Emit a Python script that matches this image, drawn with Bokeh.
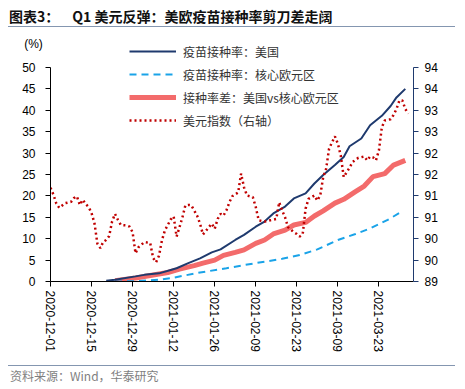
import pandas as pd
from bokeh.plotting import figure
from bokeh.models import (Range1d, LinearAxis, FixedTicker, Legend, LegendItem,
                          Label, Div, ColumnDataSource)
from bokeh.layouts import column
from bokeh.embed import file_html
from bokeh.resources import INLINE

# ---------------- data ----------------
title_prefix = "图表3："
title_text = "Q1 美元反弹：美欧疫苗接种率剪刀差走阔"
source_text = "资料来源：Wind，华泰研究"
unit_text = "(%)"

x_tick_labels = ["2020-12-01", "2020-12-15", "2020-12-29", "2021-01-12", "2021-01-26",
                 "2021-02-09", "2021-02-23", "2021-03-09", "2021-03-23"]
left_ticks = [0, 5, 10, 15, 20, 25, 30, 35, 40, 45, 50]
right_ticks = [89, 89.5, 90, 90.5, 91, 91.5, 92, 92.5, 93, 93.5, 94]
right_tick_labels = ["89", "90", "90", "91", "91", "92", "92", "93", "93", "94", "94"]

us_dates = ["2020-12-20", "2020-12-23", "2020-12-30", "2021-01-02", "2021-01-07", "2021-01-11",
            "2021-01-13", "2021-01-17", "2021-01-21", "2021-01-25", "2021-01-28", "2021-02-02",
            "2021-02-05", "2021-02-09", "2021-02-12", "2021-02-15", "2021-02-19", "2021-02-22",
            "2021-02-26", "2021-03-01", "2021-03-04", "2021-03-08", "2021-03-11", "2021-03-13",
            "2021-03-17", "2021-03-20", "2021-03-24", "2021-03-27", "2021-03-29", "2021-04-01"]
us_rate = [0.15, 0.4, 1.2, 1.55, 1.9, 2.7, 3.1, 4.3, 5.4, 6.8, 7.5, 9.7, 10.9, 12.8, 14.0,
           15.9, 17.5, 19.4, 20.6, 22.9, 24.9, 27.2, 29.1, 31.6, 33.4, 36.5, 38.7, 41.0, 43.0, 45.0]

ez_dates = ["2020-12-23", "2020-12-30", "2021-01-07", "2021-01-12", "2021-01-21", "2021-01-30",
            "2021-02-09", "2021-02-18", "2021-02-24", "2021-03-02", "2021-03-09", "2021-03-15",
            "2021-03-20", "2021-03-26", "2021-03-31"]
ez_rate = [0.0, 0.05, 0.4, 0.9, 2.1, 3.1, 4.3, 5.3, 6.2, 7.5, 9.7, 11.1, 12.4, 14.4, 16.4]

gap_dates = ["2020-12-23", "2020-12-30", "2021-01-04", "2021-01-10", "2021-01-14", "2021-01-19",
             "2021-01-22", "2021-01-26", "2021-01-29", "2021-02-02", "2021-02-05", "2021-02-09",
             "2021-02-12", "2021-02-15", "2021-02-19", "2021-02-22", "2021-02-26", "2021-03-01",
             "2021-03-04", "2021-03-08", "2021-03-11", "2021-03-15", "2021-03-18", "2021-03-21",
             "2021-03-25", "2021-03-28", "2021-04-01"]
gap_rate = [0.2, 0.8, 1.4, 2.1, 2.9, 3.7, 4.3, 5.0, 6.1, 6.8, 7.4, 8.9, 9.7, 11.1, 12.0,
            13.2, 13.8, 15.3, 16.5, 18.3, 19.2, 21.0, 22.3, 24.5, 25.2, 27.2, 28.3]

dxy_dates = ["2020-12-01", "2020-12-02", "2020-12-03", "2020-12-04", "2020-12-06", "2020-12-08",
             "2020-12-09", "2020-12-10", "2020-12-11", "2020-12-12", "2020-12-13", "2020-12-14",
             "2020-12-15", "2020-12-16", "2020-12-17", "2020-12-18", "2020-12-19", "2020-12-20",
             "2020-12-21", "2020-12-22", "2020-12-23", "2020-12-24", "2020-12-25", "2020-12-27",
             "2020-12-28", "2020-12-29", "2020-12-30", "2020-12-31", "2021-01-02", "2021-01-04",
             "2021-01-05", "2021-01-06", "2021-01-07", "2021-01-08", "2021-01-09", "2021-01-11",
             "2021-01-12", "2021-01-13", "2021-01-14", "2021-01-15", "2021-01-16", "2021-01-17",
             "2021-01-18", "2021-01-19", "2021-01-20", "2021-01-21", "2021-01-22", "2021-01-23",
             "2021-01-24", "2021-01-25", "2021-01-26", "2021-01-27", "2021-01-28", "2021-01-29",
             "2021-01-30", "2021-01-31", "2021-02-01", "2021-02-03", "2021-02-04", "2021-02-05",
             "2021-02-06", "2021-02-08", "2021-02-09", "2021-02-10", "2021-02-12", "2021-02-14",
             "2021-02-16", "2021-02-17", "2021-02-18", "2021-02-19", "2021-02-20", "2021-02-22",
             "2021-02-23", "2021-02-24", "2021-02-25", "2021-02-26", "2021-02-27", "2021-03-01",
             "2021-03-02", "2021-03-03", "2021-03-04", "2021-03-05", "2021-03-06", "2021-03-07",
             "2021-03-08", "2021-03-09", "2021-03-10", "2021-03-11", "2021-03-12", "2021-03-13",
             "2021-03-14", "2021-03-16", "2021-03-18", "2021-03-19", "2021-03-20", "2021-03-21",
             "2021-03-22", "2021-03-23", "2021-03-24", "2021-03-25", "2021-03-27", "2021-03-28",
             "2021-03-29", "2021-03-30", "2021-03-31", "2021-04-01", "2021-04-02"]
dxy_index = [91.19, 91.03, 90.82, 90.72, 90.83, 90.86,
             90.95, 90.99, 90.79, 90.91, 90.81, 90.74,
             90.60, 90.36, 89.88, 89.78, 89.93, 89.97,
             90.06, 90.40, 90.58, 90.44, 90.32, 90.31,
             90.28, 90.15, 89.66, 89.80, 89.92, 89.90,
             89.55, 89.45, 89.60, 89.96, 90.19, 90.45,
             90.52, 90.05, 90.27, 90.50, 90.78, 90.79,
             90.78, 90.66, 90.54, 90.35, 90.10, 90.18,
             90.27, 90.35, 90.23, 90.46, 90.58, 90.54,
             90.66, 90.85, 90.99, 91.08, 91.52, 91.20,
             91.01, 90.97, 90.74, 90.43, 90.40, 90.43,
             90.46, 90.85, 90.66, 90.50, 90.27, 90.15,
             90.11, 90.05, 90.10, 90.70, 90.93, 91.01,
             90.89, 91.01, 91.44, 91.63, 92.10, 92.25,
             92.39, 92.22, 91.94, 91.44, 91.55, 91.66,
             91.79, 91.89, 91.92, 91.83, 91.92, 91.90,
             91.83, 92.06, 92.60, 92.76, 92.79, 92.89,
             93.03, 93.23, 93.23, 93.03, 92.92]

legend_labels = ["疫苗接种率：美国", "疫苗接种率：核心欧元区", "接种率差：美国vs核心欧元区", "美元指数（右轴）"]

# ---------------- figure ----------------
NUM_FONT = "Liberation Sans"
CJK_FONT = "Noto Sans CJK SC"
RULE = "#8496B0"

x_start = pd.Timestamp("2020-12-01")
x_end = x_start + pd.Timedelta(days=123.8)
y_top = 56.3

p = figure(width=465, height=335, output_backend="svg", toolbar_location=None,
           x_axis_type="datetime",
           x_range=Range1d(x_start, x_end), y_range=Range1d(0, y_top),
           min_border_left=49, min_border_right=52, min_border_top=10, min_border_bottom=84)
p.outline_line_color = None
p.xgrid.visible = False
p.ygrid.visible = False
p.background_fill_color = None
p.border_fill_color = None

p.extra_y_ranges = {"dxy": Range1d(89, 89 + y_top / 10)}

src_us = ColumnDataSource(dict(x=pd.to_datetime(us_dates), y=us_rate))
src_ez = ColumnDataSource(dict(x=pd.to_datetime(ez_dates), y=ez_rate))
src_gap = ColumnDataSource(dict(x=pd.to_datetime(gap_dates), y=gap_rate))
src_dxy = ColumnDataSource(dict(x=pd.to_datetime(dxy_dates), y=dxy_index))

r_gap = p.line("x", "y", source=src_gap, line_color="#F36B6B", line_width=5)
r_ez = p.line("x", "y", source=src_ez, line_color="#1AA3E8", line_width=2, line_dash="7 5")
r_us = p.line("x", "y", source=src_us, line_color="#1F3A6E", line_width=2)
r_dxy = p.line("x", "y", source=src_dxy, y_range_name="dxy", line_color="#C00000",
               line_width=2.5, line_dash="2 3")

# left axis
ya = p.yaxis[0]
ya.ticker = FixedTicker(ticks=left_ticks)
ya.bounds = (0, 50)
ya.axis_line_color = "black"
ya.major_tick_line_color = "black"
ya.major_tick_out = 5
ya.major_tick_in = 0
ya.minor_tick_line_color = None
ya.major_label_standoff = 10
ya.major_label_text_font = NUM_FONT
ya.major_label_text_font_size = "12px"
ya.major_label_text_color = "black"

# right axis
ra = LinearAxis(y_range_name="dxy", ticker=FixedTicker(ticks=right_ticks), bounds=(89, 94))
ra.major_label_overrides = {t: lab for t, lab in zip(right_ticks, right_tick_labels)}
ra.axis_line_color = "#1F3A6E"
ra.major_tick_line_color = "#1F3A6E"
ra.major_tick_out = 5
ra.major_tick_in = 0
ra.minor_tick_line_color = None
ra.major_label_standoff = 6
ra.major_label_text_font = NUM_FONT
ra.major_label_text_font_size = "12px"
ra.major_label_text_color = "black"
p.add_layout(ra, "right")

# x axis
x_ticks = [pd.Timestamp(s).value / 1e6 for s in x_tick_labels]
xa = p.xaxis[0]
xa.ticker = FixedTicker(ticks=x_ticks)
xa.major_label_overrides = {t: s for t, s in zip(x_ticks, x_tick_labels)}
xa.major_label_orientation = "vertical"
xa.axis_line_color = "black"
xa.major_tick_line_color = "black"
xa.major_tick_out = 5
xa.major_tick_in = 0
xa.minor_tick_line_color = None
xa.major_label_standoff = 4
xa.major_label_text_font = NUM_FONT
xa.major_label_text_font_size = "12px"
xa.major_label_text_color = "black"

# unit label, placed in the left side panel so it is not clipped to the frame
p.add_layout(Label(x=33, y=13, x_units="canvas", y_units="canvas", text=unit_text,
                   text_align="center", text_baseline="middle",
                   text_font=NUM_FONT, text_font_size="12px", text_color="black"), "left")

legend = Legend(items=[LegendItem(label=legend_labels[0], renderers=[r_us]),
                       LegendItem(label=legend_labels[1], renderers=[r_ez]),
                       LegendItem(label=legend_labels[2], renderers=[r_gap]),
                       LegendItem(label=legend_labels[3], renderers=[r_dxy])],
                location=(79, 151), orientation="vertical",
                glyph_width=47, glyph_height=20, label_height=20, spacing=3,
                label_standoff=7, padding=0, margin=0,
                border_line_alpha=0, background_fill_alpha=0,
                label_text_font=CJK_FONT, label_text_font_size="12px",
                label_text_color="#333333")
p.add_layout(legend, "center")

# title block: text plus its underline drawn in one HTML block
top = Div(text=(
    '<div style="position:relative;width:465px;height:30px;">'
    '<div style="position:absolute;left:9px;top:5px;'
    'font-family:\'Noto Sans CJK SC\';font-weight:bold;font-size:14px;line-height:22px;'
    'color:#111;white-space:nowrap;">'
    + title_prefix + '<span style="margin-left:13px;">' + title_text + '</span></div>'
    '<div style="position:absolute;left:8px;top:26px;width:447px;height:1px;'
    'background-color:' + RULE + ';"></div></div>'),
    width=465, height=30, margin=0)
rule_bottom = Div(text="", width=447, height=1, margin=(0, 0, 0, 8),
                  styles={"background-color": RULE})
bottom = Div(text=(
    '<div style="display:block;padding:2px 0 0 10px;'
    'font-family:\'Noto Sans CJK SC\';font-size:12px;line-height:16px;'
    'color:#7F7F7F;white-space:nowrap;">' + source_text + '</div>'),
    width=465, height=23, margin=0)

layout = column(top, p, rule_bottom, bottom, spacing=0)

open("out.html", "w").write(file_html(layout, INLINE))
